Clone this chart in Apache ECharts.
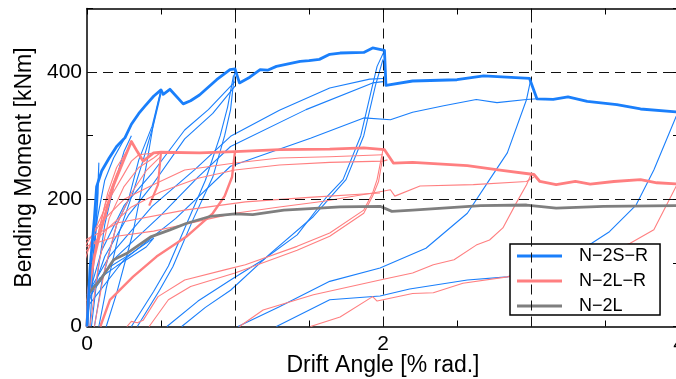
<!DOCTYPE html>
<html><head><meta charset="utf-8">
<script src="https://cdn.jsdelivr.net/npm/echarts@6/dist/echarts.min.js"></script>
<style>html,body{margin:0;padding:0;background:#fff}#c{width:676px;height:379px}</style>
</head><body><div id="c"></div>
<script>
// ---- data (drift angle [% rad.], bending moment [kNm]) ----
const seriesNames = ['N\u22122S\u2212R', 'N\u22122L\u2212R', 'N\u22122L'];
const xLabelValues = [0, 2, 4];
const yLabelValues = [0, 200, 400];
const gridX = [1, 2, 3];
const gridY = [200, 400];

const blueEnvelope = [[0,0],[0.02,90],[0.05,170],[0.065,220],[0.1,245],[0.15,265],[0.2,283],[0.257,297],[0.3,318],[0.35,335],[0.39,346],[0.45,362],[0.5,372],[0.515,365],[0.56,373],[0.65,350],[0.7,355],[0.76,364],[0.876,388],[0.966,404],[1.0,405],[1.03,383],[1.1,392],[1.17,404],[1.22,403],[1.28,409],[1.44,417],[1.5,418],[1.57,420],[1.64,428],[1.71,430],[1.87,431],[1.93,438],[2.01,434],[2.02,379],[2.2,386],[2.5,388],[2.68,394],[2.99,390],[3.04,358],[3.15,357],[3.25,361],[3.38,354],[3.58,349],[3.74,342],[4.0,337]];

const blueCycles = [
  [[0.0,0],[0.04,100],[0.07,200],[0.08,257],[0.075,210],[0.06,150],[0.04,80],[0.02,0]],
  [[0.0,0],[0.03,90],[0.07,170],[0.12,230],[0.18,265],[0.257,297]],
  [[0.03,0],[0.07,80],[0.12,160],[0.18,220],[0.25,275],[0.3,300]],
  [[0.05,0],[0.1,70],[0.2,160],[0.28,199],[0.35,262],[0.44,315],[0.5,372]],
  [[0.08,0],[0.13,60],[0.22,150],[0.31,210],[0.38,262],[0.45,318],[0.5,366]],
  [[0.13,0],[0.2,52],[0.31,147],[0.4,252],[0.45,320],[0.5,372]],
  [[0.34,0],[0.49,57],[0.58,94],[0.72,170],[0.85,235],[0.93,300],[0.97,341],[1.0,405]],
  [[0.3,0],[0.45,55],[0.55,95],[0.68,165],[0.8,230],[0.9,300],[0.95,345],[0.99,395]],
  [[0.0,40],[0.1,120],[0.25,190],[0.44,241],[0.66,309],[0.82,341],[1.0,385]],
  [[0.0,30],[0.12,110],[0.28,175],[0.44,222],[0.66,295],[0.85,335],[1.0,378]],
  [[0.0,50],[0.15,110],[0.44,189],[0.73,247],[0.97,299],[1.3,340],[1.64,375],[1.91,389],[2.0,390]],
  [[0.0,40],[0.2,110],[0.5,175],[0.75,235],[0.97,283],[1.48,341],[1.93,383],[2.0,385]],
  [[0.0,30],[0.25,105],[0.6,170],[0.97,252],[1.51,296],[1.87,328],[2.05,325],[2.2,337],[2.41,347],[2.63,357],[2.77,352],[2.97,357],[3.04,358]],
  [[0.54,0],[0.75,40],[0.97,73],[1.19,105],[1.42,144],[1.62,204],[1.73,231],[1.85,300],[1.93,380],[1.96,409],[2.01,434]],
  [[0.64,0],[0.8,30],[0.97,57],[1.24,115],[1.53,173],[1.75,231],[1.87,300],[1.95,380],[2.0,420]],
  [[1.02,0],[1.3,31],[1.64,71],[1.98,92],[2.29,123],[2.57,178],[2.72,231],[2.84,273],[2.97,357],[3.0,390]],
  [[1.28,0],[1.64,42],[1.98,48],[2.18,59],[2.57,73],[2.84,78],[3.1,95],[3.41,131],[3.53,149],[3.71,191],[3.83,246],[3.98,330],[4.0,337]],
  [[0.03,60],[0.155,94],[0.3,115],[0.45,139],[0.4,125],[0.2,95],[0.08,75]]
];

const redEnvelope = [[0,0],[0.01,57],[0.05,110],[0.088,147],[0.176,220],[0.257,267],[0.3,291],[0.34,275],[0.38,260],[0.45,273],[0.5,274],[0.76,273],[1.0,275],[1.3,278],[1.64,279],[1.87,281],[2.01,278],[2.07,257],[2.2,258],[2.57,253],[2.79,246],[3.02,239],[3.06,228],[3.17,223],[3.3,228],[3.4,224],[3.56,228],[3.74,231],[3.85,226],[4.0,224]];
const redReload = [[0.09,0],[0.155,42],[0.31,78],[0.47,110],[0.67,141],[0.85,178],[0.93,205],[0.98,235],[1.0,275]];
const redHook = [[0.42,190],[0.48,223],[0.5,274]];

const redCycles = [
  [[-0.02,100],[0.05,150],[0.15,200],[0.25,240],[0.3,260],[0.35,270],[0.5,274]],
  [[-0.02,125],[0.1,165],[0.25,200],[0.44,222],[0.66,246],[1.0,257],[1.3,265],[1.64,267],[2.0,270]],
  [[-0.02,115],[0.12,150],[0.3,188],[0.5,212],[0.75,233],[1.0,246],[1.3,254],[1.64,258],[2.0,260],[2.03,262]],
  [[0.02,0],[0.08,100],[0.15,170],[0.25,220],[0.35,250],[0.45,265],[0.5,274]],
  [[0.0,40],[0.06,130],[0.12,190],[0.2,240],[0.26,270],[0.3,291]],
  [[0.05,0],[0.12,90],[0.2,160],[0.3,210],[0.4,245],[0.5,268]],
  [[0.0,0],[0.03,80],[0.08,150],[0.14,210],[0.2,250],[0.28,280],[0.3,291]],
  [[-0.02,125],[0.2,142],[0.45,150],[0.65,160],[0.84,170],[1.0,178],[1.3,188],[1.6,197],[1.98,212],[2.05,215],[2.08,205],[2.25,221],[2.61,223],[2.97,228],[3.02,235]],
  [[-0.02,135],[0.21,163],[0.66,183],[1.07,196],[1.5,203],[1.98,210]],
  [[0.27,0],[0.3,8],[0.34,6],[0.38,10],[0.48,47],[0.66,73],[0.93,89],[1.07,97],[1.42,126],[1.64,147],[1.87,183],[1.93,210],[1.96,231],[2.0,278]],
  [[0.42,0],[0.55,42],[0.7,63],[1.0,84],[1.42,120],[1.64,142],[1.87,178],[1.93,205],[1.97,228],[2.0,268]],
  [[1.03,0],[1.19,26],[1.53,50],[1.98,73],[2.2,84],[2.34,97],[2.48,105],[2.63,128],[2.72,136],[2.81,155],[2.9,194],[2.97,223],[3.0,239]],
  [[1.51,0],[1.71,15],[1.93,47],[1.96,40],[2.2,52],[2.34,53],[2.54,68],[2.84,78],[3.2,95],[3.5,115],[3.67,131],[3.83,152],[3.98,220],[4.0,228]]
];

const grayEnvelope = [[0,0],[0.01,52],[0.09,73],[0.18,105],[0.27,115],[0.43,141],[0.56,152],[0.67,162],[0.83,173],[1.0,177],[1.12,176],[1.33,183],[1.57,186],[1.71,188],[1.98,189],[2.06,181],[2.2,183],[2.66,190],[2.97,191],[3.17,186],[3.49,189],[4.0,190]];

// ---- chart ----
const BLUE = '#1a7ffb', RED = '#ff7f80', GRAY = '#7f7f7f';
const FONT = 'Liberation Sans, Arial, sans-serif';
function lineSeries(name, data, color, width, z) {
  return { name, type: 'line', data, symbol: 'none', showSymbol: false, clip: true,
    lineStyle: { color, width, join: 'round' }, itemStyle: { color }, z, animation: false, emphasis: { disabled: true } };
}
const series = [];
series.push({ name: 'grid', type: 'line', data: [], symbol: 'none', z: 1, silent: true,
  markLine: { silent: true, symbol: ['none', 'none'], animation: false, label: { show: false },
    lineStyle: { color: '#111', width: 1, type: [10, 6] },
    data: gridX.map(v => ({ xAxis: v })).concat(gridY.map(v => ({ yAxis: v }))) } });
series.push(lineSeries(seriesNames[0], blueEnvelope, BLUE, 2.8, 6));
series.push(lineSeries(seriesNames[1], redEnvelope, RED, 2.8, 5));
series.push(lineSeries(seriesNames[2], grayEnvelope, GRAY, 2.8, 4));
blueCycles.forEach(d => series.push(lineSeries(seriesNames[0], d, BLUE, 1.1, 2)));
redCycles.forEach(d => series.push(lineSeries(seriesNames[1], d, RED, 1.1, 3)));
series.push(lineSeries(seriesNames[1], redReload, RED, 2.4, 3));
series.push(lineSeries(seriesNames[1], redHook, RED, 2.2, 3));

const axisCommon = { type: 'value', splitLine: { show: false },
  axisLine: { show: true, onZero: false, lineStyle: { color: '#000', width: 1.5 } },
  axisTick: { show: true, inside: true, length: 6, lineStyle: { color: '#000', width: 1 } },
  minorTick: { show: true, splitNumber: 2, length: 6, lineStyle: { color: '#000', width: 1 } } };

const legendData = seriesNames.map((n, i) => ({ name: n, itemStyle: { color: [BLUE, RED, GRAY][i] } }));

const chart = echarts.init(document.getElementById('c'), null, { renderer: 'canvas' });
chart.setOption({
  animation: false,
  textStyle: { fontFamily: FONT },
  grid: { left: 87, top: 8.5, width: 592, height: 318, containLabel: false, outerBoundsMode: 'none' },
  legend: { data: legendData, orient: 'vertical', left: 510, top: 244, icon: 'rect',
    backgroundColor: '#fff', borderColor: '#000', borderWidth: 1.5, borderRadius: 0,
    padding: [3, 12, 0, 7], itemWidth: 45, itemHeight: 3, itemGap: 7,
    textStyle: { fontSize: 18, lineHeight: 18, color: '#000', fontFamily: FONT, padding: [0, 0, 0, 12] } },
  xAxis: [
    Object.assign({}, axisCommon, { min: 0, max: 4, interval: 1, position: 'bottom',
      axisLabel: { fontSize: 21, color: '#000', margin: 7, fontFamily: FONT,
        formatter: v => xLabelValues.includes(v) ? String(v) : '' },
      name: 'Drift Angle [% rad.]', nameLocation: 'middle', nameGap: 28, nameMoveOverlap: false,
      nameTextStyle: { fontSize: 23, color: '#000', fontFamily: FONT, verticalAlign: 'top' } }),
    Object.assign({}, axisCommon, { min: 0, max: 4, interval: 1, position: 'top', axisLabel: { show: false } })
  ],
  yAxis: [
    Object.assign({}, axisCommon, { min: 0, max: 500, interval: 100, minorTick: { show: false }, position: 'left',
      axisLabel: { fontSize: 21, color: '#000', margin: 5, fontFamily: FONT,
        formatter: v => yLabelValues.includes(v) ? String(v) : '' },
      name: 'Bending Moment [kNm]', nameLocation: 'middle', nameGap: 47,
      nameTextStyle: { fontSize: 23, color: '#000', fontFamily: FONT } }),
    Object.assign({}, axisCommon, { min: 0, max: 500, interval: 100, minorTick: { show: false }, position: 'right', axisLabel: { show: false } })
  ],
  series
});
</script></body></html>
